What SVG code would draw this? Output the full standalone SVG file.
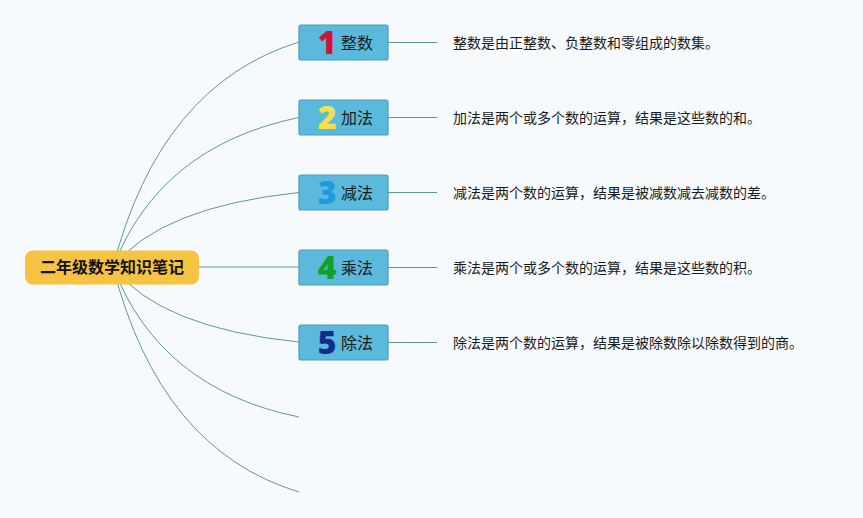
<svg xmlns="http://www.w3.org/2000/svg" width="863" height="518" viewBox="0 0 863 518">
<style>
.bg{fill:#f7fafd}
.ln{fill:none;stroke:#5b9a93;stroke-width:1}
.box{fill:#5bb9dc;stroke:#4a9cbb;stroke-width:1.2}
.lbl{font-family:"Noto Sans CJK SC","Noto Sans",sans-serif;font-size:16px;fill:#1a1a1a}
.num{font-family:"Open Sans","Noto Sans",sans-serif;font-size:32px;font-weight:800;text-anchor:middle}
.desc{font-family:"Noto Sans CJK SC","Noto Sans",sans-serif;font-size:14px;fill:#1a1a1a}
.root{fill:#f6c343}
.roott{font-family:"Noto Sans CJK SC","Noto Sans",sans-serif;font-size:16px;font-weight:bold;fill:#111;text-anchor:middle}
</style>
<rect class="bg" width="863" height="518"/>
<g id="connectors">
<path class="ln" d="M113 267 Q160 85 299 42"/>
<path class="ln" d="M113 267 Q160 146 299 117.5"/>
<path class="ln" d="M113 267 Q160 207 299 192.5"/>
<path class="ln" d="M199 267 L299 267"/>
<path class="ln" d="M113 267 Q160 328 299 342"/>
<path class="ln" d="M113 267 Q160 389 299 417"/>
<path class="ln" d="M113 267 Q160 450 299 492"/>
<path class="ln" d="M388 42.5 H437 M388 117.5 H437 M388 192.5 H437 M388 267.5 H437 M388 342.5 H437"/>
</g>
<g id="root">
<rect class="root" x="25" y="250.5" width="174" height="34" rx="8"/>
<text class="roott" x="112" y="273">二年级数学知识笔记</text>
</g>
<g id="n1">
<rect class="box" x="299" y="25" width="89" height="35" rx="2"/>
<text class="num" x="327" y="54" fill="#d0153a">1</text>
<text class="lbl" x="341" y="48.5">整数</text>
</g>
<g id="n2">
<rect class="box" x="299" y="100" width="89" height="35" rx="2"/>
<text class="num" x="327" y="129" fill="#f5e04a">2</text>
<text class="lbl" x="341" y="123.5">加法</text>
</g>
<g id="n3">
<rect class="box" x="299" y="175" width="89" height="35" rx="2"/>
<text class="num" x="327" y="204" fill="#1e9be0">3</text>
<text class="lbl" x="341" y="198.5">减法</text>
</g>
<g id="n4">
<rect class="box" x="299" y="250" width="89" height="35" rx="2"/>
<text class="num" x="327" y="279" fill="#13a02a">4</text>
<text class="lbl" x="341" y="273.5">乘法</text>
</g>
<g id="n5">
<rect class="box" x="299" y="325" width="89" height="35" rx="2"/>
<text class="num" x="327" y="354" fill="#142c8c">5</text>
<text class="lbl" x="341" y="348.5">除法</text>
</g>
<g id="d1"><text class="desc" x="453" y="47.5">整数是由正整数、负整数和零组成的数集。</text></g>
<g id="d2"><text class="desc" x="453" y="122.5">加法是两个或多个数的运算，结果是这些数的和。</text></g>
<g id="d3"><text class="desc" x="453" y="197.5">减法是两个数的运算，结果是被减数减去减数的差。</text></g>
<g id="d4"><text class="desc" x="453" y="272.5">乘法是两个或多个数的运算，结果是这些数的积。</text></g>
<g id="d5"><text class="desc" x="453" y="347.5">除法是两个数的运算，结果是被除数除以除数得到的商。</text></g>
</svg>
